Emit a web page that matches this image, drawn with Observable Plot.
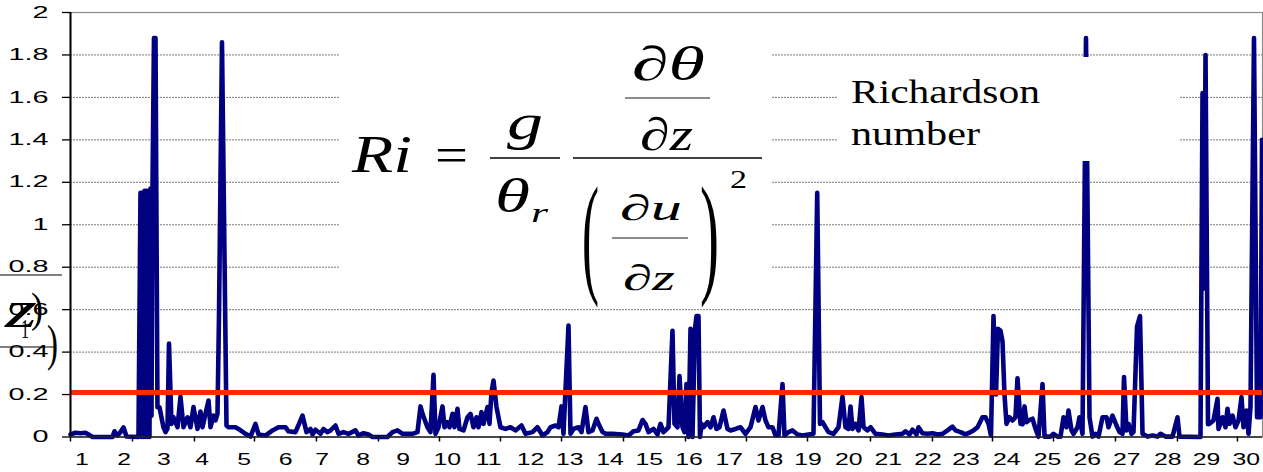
<!DOCTYPE html>
<html><head><meta charset="utf-8">
<script src="https://cdn.jsdelivr.net/npm/d3@7"></script>
<script src="https://cdn.jsdelivr.net/npm/@observablehq/plot@0.6"></script>
<style>
html,body{margin:0;padding:0;background:#fff;}
#wrap{position:relative;width:1263px;height:472px;overflow:hidden;background:#fff;}
#overlay{position:absolute;left:0;top:0;pointer-events:none;}
#overlay text{font-family:"Liberation Serif","Times New Roman",serif;fill:#000;}
</style></head><body><div id="wrap"></div>
<script>
// Richardson number series: x in days, value Ri
const days = [0.714,0.838,0.963,1.087,1.162,1.262,1.760,1.809,1.884,1.959,2.034,2.108,
2.407,2.457,2.482,2.507,2.532,2.557,2.582,2.606,2.631,2.656,2.681,2.706,2.731,2.756,2.793,2.831,
2.880,2.930,3.030,3.080,3.130,3.167,3.229,3.279,3.379,3.453,3.528,3.628,3.702,3.777,3.877,3.951,4.001,4.076,4.151,4.201,4.275,4.325,4.375,4.412,
4.487,
4.599,4.649,4.823,4.898,5.072,5.197,5.321,5.396,5.570,5.745,5.894,6.069,6.143,6.318,6.492,6.592,6.691,6.741,6.816,6.940,7.015,7.115,7.189,7.314,7.389,7.513,7.638,7.812,7.887,8.011,8.136,8.235,8.609,8.733,8.858,8.983,9.232,9.356,9.431,9.481,9.605,9.680,9.755,9.805,9.879,9.979,10.029,10.103,10.153,10.228,10.278,10.352,10.402,10.502,10.602,10.676,10.751,10.826,10.875,10.950,11.000,11.100,11.149,11.199,11.249,11.324,11.423,11.548,11.672,11.797,11.946,12.046,12.220,12.345,12.470,12.594,12.669,12.793,12.868,12.943,12.992,13.117,13.167,13.242,13.366,13.441,13.540,13.615,13.715,13.815,13.864,13.964,14.039,14.213,14.462,14.612,14.736,14.861,14.960,15.035,15.110,15.234,15.334,15.408,15.483,15.608,15.707,15.757,15.832,15.882,15.956,16.006,16.056,16.106,16.156,16.205,16.268,16.305,16.355,16.392,16.430,16.480,16.579,16.654,16.729,16.803,16.878,16.978,17.077,17.152,17.277,17.401,17.526,17.650,17.775,17.849,17.949,18.024,18.098,18.198,18.273,18.347,18.447,18.497,18.597,18.696,18.821,18.945,19.095,19.219,
19.312,
19.381,19.444,19.518,19.593,19.717,19.842,19.941,20.016,20.091,20.141,20.191,20.265,20.340,20.415,20.465,20.564,20.639,20.763,20.938,21.087,21.262,21.436,21.511,21.610,21.685,21.785,21.834,21.934,22.059,22.183,22.308,22.432,22.557,22.681,22.756,22.881,23.005,23.130,23.204,23.304,23.428,23.503,23.578,23.640,23.702,23.765,23.814,23.877,23.927,23.976,24.026,24.101,24.176,24.250,24.300,24.375,24.425,24.475,24.524,24.574,24.674,24.749,24.823,24.923,24.973,25.122,25.197,25.297,25.371,25.446,25.521,25.570,25.645,25.695,25.795,25.844,25.919,
26.006,
26.093,26.168,26.243,26.318,26.417,26.517,26.567,26.666,26.766,26.841,26.915,26.953,27.015,27.065,27.140,27.189,27.277,27.351,27.414,27.538,27.663,27.787,27.862,27.986,28.161,28.285,28.335,28.858,28.908,28.945,28.983,29.045,29.082,29.182,29.281,29.306,29.406,29.481,29.530,29.580,29.655,29.730,29.804,29.879,29.929,30.004,30.054,30.103,
30.190,
30.266,30.353,30.390];
const ri = [0.012,0.02,0.018,0.02,0.012,0,0,0.027,0.007,0.023,0.045,0.002,
0,1.15,0,1.15,0,1.16,0,1.16,0,1.16,0,1.17,0.1,1.17,1.88,1.88,
0.14,0.14,0.045,0.023,0.04,0.44,0.062,0.093,0.046,0.19,0.046,0.093,0.046,0.141,0.038,0.12,0.046,0.109,0.172,0.046,0.101,0.078,0.109,0.565,
1.86,
0.054,0.046,0.046,0.038,0.015,0.002,0.062,0.012,0.007,0.031,0.046,0.046,0.027,0.023,0.101,0.023,0.038,0.012,0.034,0.015,0.038,0.023,0.031,0.054,0.015,0.023,0.015,0.031,0.007,0.018,0.012,0,0,0.023,0.031,0.015,0.015,0.023,0.144,0.109,0.046,0.023,0.293,0.015,0.046,0.144,0.046,0.07,0.046,0.109,0.046,0.133,0.038,0.031,0.093,0.109,0.046,0.093,0.046,0.117,0.062,0.141,0.062,0.21,0.266,0.141,0.046,0.038,0.046,0.031,0.054,0.015,0.023,0.046,0.007,0.023,0.046,0.054,0.046,0.144,0.015,0.525,0.015,0.038,0.046,0.023,0.141,0.023,0.031,0.086,0.062,0.023,0.015,0.015,0.012,0.007,0.027,0.031,0.08,0.062,0.023,0.038,0.012,0.062,0.023,0.046,0.5,0.062,0.046,0.287,0.046,0.023,0.25,0,0.51,0,0.51,0.57,0.57,0,0.062,0.046,0.07,0.046,0.093,0.038,0.046,0.125,0.038,0.031,0.038,0.046,0.015,0.046,0.141,0.078,0.141,0.078,0.046,0.046,0.007,0.007,0.25,0.007,0.023,0.031,0.012,0.007,0.012,0.015,
1.15,
0.062,0.07,0.046,0.023,0.015,0.046,0.191,0.046,0.038,0.144,0.038,0.062,0.031,0.188,0.046,0.031,0.046,0.015,0.012,0.007,0.012,0.015,0.027,0.012,0.034,0.012,0.046,0.018,0.015,0.018,0.012,0.015,0.031,0.049,0.031,0.023,0.012,0.023,0.031,0.046,0.093,0.093,0.062,0.007,0.57,0.2,0.51,0.5,0.45,0.2,0.062,0.093,0.078,0.093,0.277,0.062,0.06,0.144,0.07,0.078,0.086,0.038,0.002,0.25,0.002,0.002,0.015,0.002,0.002,0.093,0.046,0.125,0.031,0.015,0.046,0.093,0.015,
1.88,
0.093,0.002,0.015,0.002,0.093,0.093,0.046,0.101,0.054,0.023,0.015,0.282,0.031,0.062,0.015,0.023,0.52,0.57,0.015,0.002,0.007,0.002,0.015,0.002,0.002,0.093,0.002,0,1.62,0.7,1.80,0.06,0.062,0.078,0.18,0.038,0.093,0.046,0.133,0.062,0.101,0.046,0.078,0.188,0.046,0.125,0.015,0.141,
1.88,
0.093,0.093,1.40];

const dayLabels = [1,2,3,4,5,6,7,8,9,10,11,12,13,14,15,16,17,18,19,20,21,22,23,24,25,26,27,28,29,30];
const dayLabelPos = [1.00,2.05,3.04,3.99,5.04,6.07,6.98,8.00,9.00,10.10,11.13,12.17,13.15,14.15,15.13,16.12,17.12,18.12,19.08,20.10,21.08,22.07,23.02,24.03,25.05,26.04,27.02,28.04,29.01,30.00];
const tickPos = [0.714,2.258,3.802,5.296,6.840,8.385,9.904,11.423,12.943,14.487,16.031,17.550,19.069,20.638,22.182,23.677,25.196,26.740,28.284,29.778];
const yTicks = [0,0.2,0.4,0.6,0.8,1,1.2,1.4,1.6,1.8,2];
const gridTicks = [0.2,0.4,0.6,0.8,1,1.2,1.4,1.6,1.8];
const riThreshold = [0.21];
const xDomain = [0.714, 30.402];
const yDomain = [0, 2];

if (days.length !== ri.length) throw new Error("length mismatch " + days.length + " vs " + ri.length);
const points = days.map((d, i) => ({day: d, ri: ri[i]}));
const labelMap = new Map(dayLabelPos.map((p, i) => [p, String(dayLabels[i])]));

const chart = Plot.plot({
  width: 1263, height: 472,
  marginLeft: 70, marginRight: 1, marginTop: 12, marginBottom: 35.5,
  x: {domain: xDomain, label: null},
  y: {domain: yDomain, label: null},
  style: {fontFamily: "'Liberation Sans', Arial, sans-serif", fontSize: "16px", color: "#000", background: "#fff", overflow: "visible"},
  marks: [
    Plot.gridY(gridTicks, {stroke: "#7a7a7a", strokeOpacity: 1, strokeWidth: 1, strokeDasharray: "2,1"}),
    Plot.frame({stroke: "#8a8a8a", strokeWidth: 1.2}),
    Plot.line(points, {x: "day", y: "ri", stroke: "#000080", strokeWidth: 4.6, strokeLinejoin: "round", strokeLinecap: "round"}),
    Plot.ruleY(riThreshold, {stroke: "#ff2a00", strokeWidth: 5}),
    Plot.ruleX([xDomain[0]], {stroke: "#000", strokeWidth: 2}),
    Plot.ruleY([0], {stroke: "#222", strokeWidth: 1.5}),
    Plot.axisY(yTicks, {tickSize: 8, tickPadding: 14, stroke: "#000", strokeWidth: 1.3, fill: "#000", tickFormat: d => String(+d.toFixed(1))}),
    Plot.axisX(tickPos, {tickSize: 5, stroke: "#000", strokeWidth: 1.5, tickFormat: () => ""}),
    Plot.axisX(dayLabelPos, {tickSize: 0, tickPadding: 17, fill: "#000", tickFormat: d => labelMap.get(d)})
  ]
});

const wrap = document.getElementById("wrap");
wrap.appendChild(chart);
const svg = chart.tagName.toLowerCase() === "svg" ? chart : chart.querySelector("svg");
svg.querySelectorAll("text").forEach(t => {
  const x = +(t.getAttribute("x") || 0);
  const tr = t.getAttribute("transform") || "";
  const anchorEnd = (t.closest("[text-anchor]") && t.closest("[text-anchor]").getAttribute("text-anchor") === "end");
  const k = anchorEnd ? 1.8 : 1.55;
  t.setAttribute("transform", `${tr} translate(${x},0) scale(${k},1) translate(${-x},0)`);
});

// Overlay: formula and label boxes
const NS = "http://www.w3.org/2000/svg";
const ov = document.createElementNS(NS, "svg");
ov.setAttribute("id", "overlay");
ov.setAttribute("width", 1263);
ov.setAttribute("height", 472);
wrap.appendChild(ov);
function el(name, attrs, parent) {
  const e = document.createElementNS(NS, name);
  for (const k in attrs) e.setAttribute(k, attrs[k]);
  (parent || ov).appendChild(e);
  return e;
}
function txt(str, attrs, parent) {
  const e = el("text", Object.assign({lengthAdjust: "spacingAndGlyphs"}, attrs), parent);
  e.textContent = str;
  return e;
}
// white boxes
el("rect", {x: 340, y: 18, width: 432, height: 288, fill: "#fff"});
el("rect", {x: 838, y: 57, width: 342, height: 104, fill: "#fff"});

// Formula
txt("Ri", {x: 352, y: 172, "font-size": 52, "font-style": "italic", textLength: 60});
txt("=", {x: 435, y: 172, "font-size": 50, textLength: 33});
txt("g", {x: 507, y: 139, "font-size": 50, "font-style": "italic", textLength: 36});
el("line", {x1: 490, x2: 560, y1: 158, y2: 158, stroke: "#000", "stroke-width": 1.3});
txt("θ", {x: 495, y: 212, "font-size": 48, "font-style": "italic", textLength: 35});
txt("r", {x: 531, y: 222, "font-size": 28, "font-style": "italic", textLength: 17});
const t1 = txt("", {x: 632, y: 80, "font-size": 48, textLength: 73});
const s1 = el("tspan", {}, t1); s1.textContent = "∂";
const s2 = el("tspan", {"font-style": "italic"}, t1); s2.textContent = "θ";
el("line", {x1: 625, x2: 710, y1: 98, y2: 98, stroke: "#666", "stroke-width": 1.5});
const t2 = txt("", {x: 640, y: 150, "font-size": 46, textLength: 53});
const s3 = el("tspan", {}, t2); s3.textContent = "∂";
const s4 = el("tspan", {"font-style": "italic"}, t2); s4.textContent = "z";
el("line", {x1: 573, x2: 762, y1: 158, y2: 158, stroke: "#000", "stroke-width": 1.3});
txt("(", {x: 582, y: 109.4, "font-size": 52, textLength: 17, transform: "scale(1,2.55)"});
txt(")", {x: 700, y: 109.4, "font-size": 52, textLength: 19, transform: "scale(1,2.55)"});
const t3 = txt("", {x: 620, y: 220, "font-size": 36, textLength: 62});
const s5 = el("tspan", {}, t3); s5.textContent = "∂";
const s6 = el("tspan", {"font-style": "italic"}, t3); s6.textContent = "u";
el("line", {x1: 612, x2: 688, y1: 238, y2: 238, stroke: "#666", "stroke-width": 1.5});
const t4 = txt("", {x: 623, y: 290, "font-size": 36, textLength: 52});
const s7 = el("tspan", {}, t4); s7.textContent = "∂";
const s8 = el("tspan", {"font-style": "italic"}, t4); s8.textContent = "z";
txt("2", {x: 730, y: 188, "font-size": 26, textLength: 17});

// Label
txt("Richardson", {x: 851, y: 103, "font-size": 34, textLength: 189});
txt("number", {x: 851, y: 145, "font-size": 34, textLength: 129});

// Left fragment of another formula
el("line", {x1: 0, x2: 62, y1: 275, y2: 275, stroke: "#000", "stroke-width": 1.2});
el("line", {x1: 0, x2: 55, y1: 347, y2: 347, stroke: "#000", "stroke-width": 1.2});
txt("z", {x: 5, y: 327, "font-size": 52, "font-style": "italic", textLength: 32});
txt("1", {x: 21, y: 338, "font-size": 28, textLength: 8});
txt(")", {x: 31, y: 322, "font-size": 42, textLength: 12});
txt(")", {x: 47, y: 360, "font-size": 50, textLength: 11});
</script></body></html>
